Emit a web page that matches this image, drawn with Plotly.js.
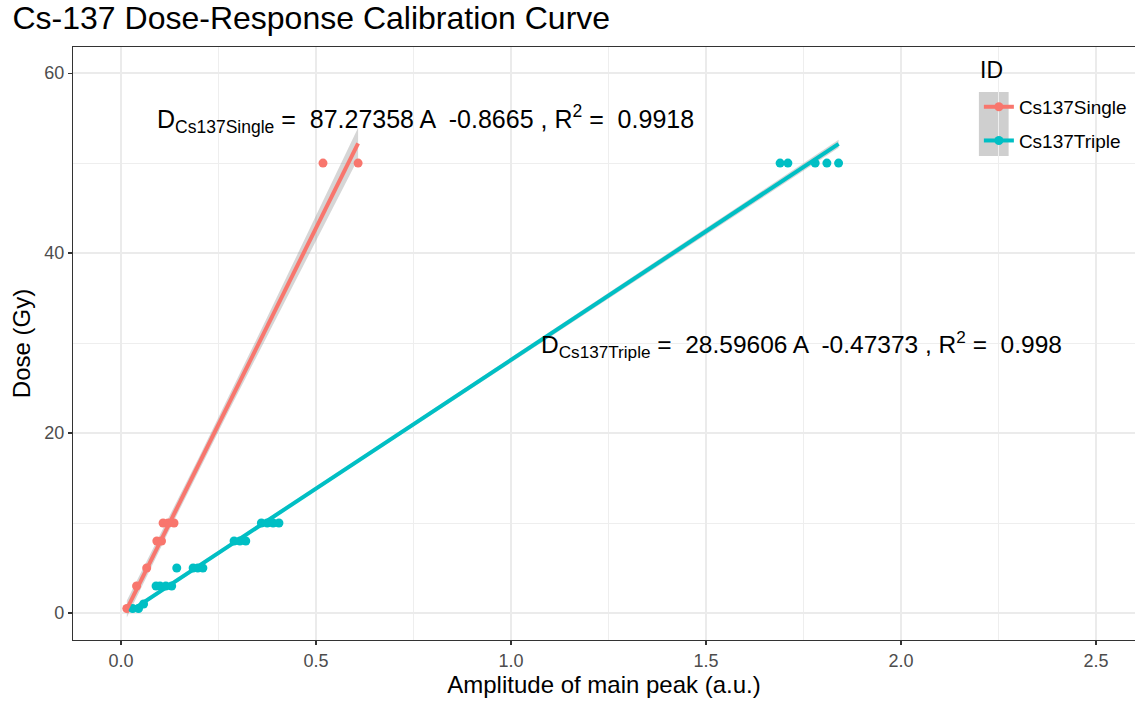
<!DOCTYPE html>
<html>
<head>
<meta charset="utf-8">
<script src="https://cdn.plot.ly/plotly-3.0.1.min.js"></script>
<style>html,body{margin:0;padding:0;background:#fff;}#chart{width:1135px;height:702px;}</style>
</head>
<body>
<div id="chart"></div>
<script>
// ---- data ----
const seriesNames = ["Cs137Single", "Cs137Triple"];
const singleAmp  = [0.015, 0.040, 0.066, 0.092, 0.104, 0.108, 0.121, 0.136, 0.518, 0.608];
const singleDose = [0.5,   3,     5,     8,     8,     10,    10,    10,    50,    50];
const tripleAmp  = [0.030, 0.045, 0.058, 0.090, 0.100, 0.115, 0.130, 0.143, 0.185, 0.197, 0.210, 0.290, 0.305, 0.320, 0.360, 0.375, 0.390, 0.405, 1.690, 1.710, 1.780, 1.810, 1.840];
const tripleDose = [0.5,   0.5,   1,     3,     3,     3,     3,     5,     5,     5,     5,     8,     8,     8,     10,    10,    10,    10,    50,    50,    50,    50,    50];
const singleSlope = 87.27358, singleIntercept = -0.8665, singleR2 = "0.9918";
const tripleSlope = 28.59606, tripleIntercept = -0.47373, tripleR2 = "0.998";
const xTicks = [0, 0.5, 1.0, 1.5, 2.0, 2.5];
const yTicks = [0, 20, 40, 60];
const legendTitle = "ID";

const colors = ["#F8766D", "#00BFC4"];
const FONT = "Liberation Sans, Arial, Helvetica, sans-serif";

// fitted line and standard-error band from the data
function fitBand(xs, ys, slope, intercept) {
  const n = xs.length;
  const xbar = xs.reduce((a, b) => a + b, 0) / n;
  const sxx = xs.reduce((a, x) => a + (x - xbar) * (x - xbar), 0);
  const sse = xs.reduce((a, x, i) => { const r = ys[i] - (slope * x + intercept); return a + r * r; }, 0);
  const s = Math.sqrt(sse / (n - 2));
  const t = 1.0;
  const lo = Math.min(...xs), hi = Math.max(...xs);
  const gx = [], gy = [], up = [], dn = [];
  const N = 80;
  for (let k = 0; k <= N; k++) {
    const x = lo + (hi - lo) * k / N;
    const y = slope * x + intercept;
    const se = s * Math.sqrt(1 / n + (x - xbar) * (x - xbar) / sxx);
    gx.push(x); gy.push(y); up.push(y + t * se); dn.push(y - t * se);
  }
  return {gx, gy, up, dn};
}

const series = [
  {name: seriesNames[0], x: singleAmp, y: singleDose, m: singleSlope, b: singleIntercept, c: colors[0]},
  {name: seriesNames[1], x: tripleAmp, y: tripleDose, m: tripleSlope, b: tripleIntercept, c: colors[1]}
];

const traces = [];
series.forEach(s => {
  const f = fitBand(s.x, s.y, s.m, s.b);
  traces.push({x: f.gx.concat(f.gx.slice().reverse()), y: f.up.concat(f.dn.slice().reverse()),
    type: "scatter", mode: "lines", fill: "toself", fillcolor: "rgba(153,153,153,0.4)",
    line: {width: 0}, hoverinfo: "skip", showlegend: false});
});
series.forEach(s => {
  traces.push({x: s.x, y: s.y, type: "scatter", mode: "markers",
    marker: {color: s.c, size: 9}, showlegend: false, name: s.name});
});
series.forEach(s => {
  const f = fitBand(s.x, s.y, s.m, s.b);
  traces.push({x: f.gx, y: f.gy, type: "scatter", mode: "lines",
    line: {color: s.c, width: 4}, showlegend: false, name: s.name});
});
series.forEach((s, i) => {
  traces.push({x: [null], y: [null], type: "scatter", mode: "lines+markers", legendgroup: "g" + i,
    line: {color: s.c, width: 4}, marker: {color: s.c, size: 9}, name: s.name, showlegend: true});
});

const layout = {
  width: 1135, height: 702,
  margin: {l: 73, r: 0, t: 47, b: 62},
  paper_bgcolor: "#fff", plot_bgcolor: "#fff",
  font: {family: FONT, color: "#000"},
  title: {text: "Cs-137 Dose-Response Calibration Curve", font: {family: FONT, size: 32, color: "#000"},
    x: 0.011, xanchor: "left", xref: "container", y: 0.974, yanchor: "middle"},
  xaxis: {
    range: [-0.123, 2.6], tickvals: xTicks, ticktext: xTicks.map(v => v.toFixed(1)),
    showgrid: true, gridcolor: "#EBEBEB", gridwidth: 1.5, zeroline: false,
    minor: {dtick: 0.25, tick0: 0, showgrid: true, gridcolor: "#EEEEEE", gridwidth: 1},
    showline: true, linecolor: "#333", linewidth: 1.2, mirror: true,
    ticks: "outside", ticklen: 4, tickcolor: "#333", tickwidth: 1.2,
    tickfont: {family: FONT, size: 18, color: "#4D4D4D"},
    title: {text: "Amplitude of main peak (a.u.)", font: {family: FONT, size: 24, color: "#000"}, standoff: 6}
  },
  yaxis: {
    range: [-3.0, 62.9], tickvals: yTicks, ticktext: yTicks.map(String),
    showgrid: true, gridcolor: "#EBEBEB", gridwidth: 1.5, zeroline: false,
    minor: {dtick: 10, tick0: 0, showgrid: true, gridcolor: "#EEEEEE", gridwidth: 1},
    showline: true, linecolor: "#333", linewidth: 1.2,
    ticks: "outside", ticklen: 4, tickcolor: "#333", tickwidth: 1.2,
    tickfont: {family: FONT, size: 18, color: "#4D4D4D"},
    title: {text: "Dose (Gy)", font: {family: FONT, size: 24, color: "#000"}, standoff: 6}
  },
  legend: {
    x: 0.853, y: 0.931, xanchor: "left", yanchor: "top", bgcolor: "rgba(0,0,0,0)",
    font: {family: FONT, size: 19, color: "#000"},
    itemwidth: 30, tracegroupgap: 6
  },
  shapes: [{type: "rect", xref: "paper", yref: "paper", x0: 0.853, x1: 0.881, y0: 0.816, y1: 0.924,
    fillcolor: "#CFCFCF", line: {width: 0}, layer: "below"}],
  annotations: [
    {x: 0.852, y: 0.961, xref: "paper", yref: "paper", xanchor: "left", yanchor: "middle", showarrow: false,
      text: legendTitle, font: {family: FONT, size: 23, color: "#000"}},
    {x: 0.782, y: 54.9, xref: "x", yref: "y", showarrow: false,
      text: "D<sub>Cs137Single</sub> =  " + singleSlope + " A  " + singleIntercept + " , R<sup>2</sup> =  " + singleR2,
      font: {family: FONT, size: 25, color: "#000"}},
    {x: 1.745, y: 29.8, xref: "x", yref: "y", showarrow: false,
      text: "D<sub>Cs137Triple</sub> =  " + tripleSlope + " A  " + tripleIntercept + " , R<sup>2</sup> =  " + tripleR2,
      font: {family: FONT, size: 24.5, color: "#000"}}
  ]
};

Plotly.newPlot("chart", traces, layout, {displayModeBar: false, staticPlot: true});
</script>
</body>
</html>
